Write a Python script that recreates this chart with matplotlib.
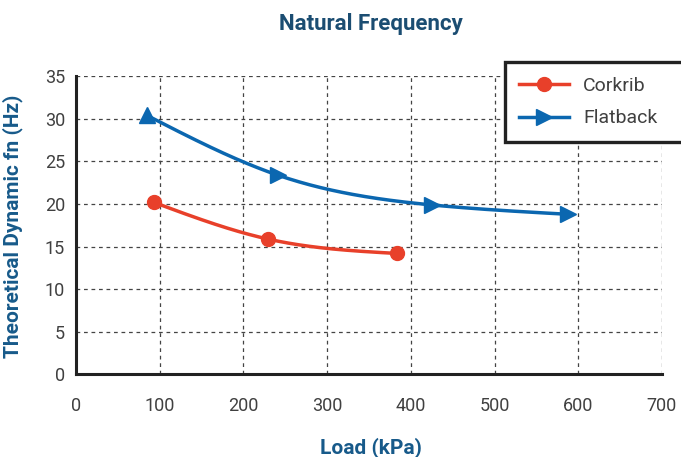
import matplotlib

matplotlib.use("Agg")
import matplotlib.pyplot as plt
import numpy as np
from matplotlib.lines import Line2D
from matplotlib.patches import Rectangle

plt.rcParams["font.family"] = ["Roboto", "DejaVu Sans"]

corkrib_load = [93, 229, 384]
corkrib_fn = [20.2, 15.9, 14.2]
flatback_load = [85, 241, 425, 588]
flatback_fn = [30.4, 23.4, 19.9, 18.8]
flatback_markers = ["^", ">", ">", ">"]

x_ticks = [0, 100, 200, 300, 400, 500, 600, 700]
y_ticks = [0, 5, 10, 15, 20, 25, 30, 35]

RED = "#e8402a"
BLUE = "#0b67b0"
TITLE_C = "#1b4d72"
LABEL_C = "#175a8a"


def smooth(xs, ys, n=200):
    # natural cubic spline in x, only used to draw the smoothed connecting line
    x = np.asarray(xs, dtype=float)
    y = np.asarray(ys, dtype=float)
    k = len(x)
    h = np.diff(x)
    A = np.zeros((k, k))
    b = np.zeros(k)
    A[0, 0] = A[-1, -1] = 1.0
    for i in range(1, k - 1):
        A[i, i - 1] = h[i - 1]
        A[i, i] = 2 * (h[i - 1] + h[i])
        A[i, i + 1] = h[i]
        b[i] = 6 * ((y[i + 1] - y[i]) / h[i] - (y[i] - y[i - 1]) / h[i - 1])
    m = np.linalg.solve(A, b)
    xx = np.linspace(x[0], x[-1], n)
    idx = np.clip(np.searchsorted(x, xx) - 1, 0, k - 2)
    x0, x1 = x[idx], x[idx + 1]
    hh = x1 - x0
    t0, t1 = x1 - xx, xx - x0
    yy = (m[idx] * t0 ** 3 + m[idx + 1] * t1 ** 3) / (6 * hh) \
        + (y[idx] / hh - m[idx] * hh / 6) * t0 + (y[idx + 1] / hh - m[idx + 1] * hh / 6) * t1
    return xx, yy


def main() -> None:
    W, H = 681, 457
    fig = plt.figure(figsize=(W / 100, H / 100), dpi=100)
    ax = fig.add_axes([0.1116, 0.1807, 0.8604, 0.6523])

    ax.set_xlim(0, 700)
    ax.set_ylim(0, 35)
    ax.set_xticks(x_ticks)
    ax.set_yticks(y_ticks)
    ax.grid(True, linestyle=(0, (3, 3)), color="#444444", linewidth=0.9)
    ax.set_axisbelow(True)
    for side in ("top", "right"):
        ax.spines[side].set_visible(False)
    for side in ("left", "bottom"):
        ax.spines[side].set_linewidth(2.2)
        ax.spines[side].set_color("#222222")
    ax.tick_params(length=0, labelsize=13, labelcolor="#404040")
    ax.tick_params(axis="x", pad=16)
    ax.tick_params(axis="y", pad=8)

    sx, sy = smooth(corkrib_load, corkrib_fn)
    ax.plot(sx, sy, color=RED, linewidth=2.5, zorder=3)
    ax.plot(corkrib_load, corkrib_fn, linestyle="none", marker="o", markersize=10,
            color=RED, zorder=4)

    sx, sy = smooth(flatback_load, flatback_fn)
    ax.plot(sx, sy, color=BLUE, linewidth=2.5, zorder=3)
    for x, y, m in zip(flatback_load, flatback_fn, flatback_markers):
        ax.plot([x], [y], linestyle="none", marker=m, markersize=11, color=BLUE, zorder=4)

    fig.text(0.545, 0.948, "Natural Frequency", ha="center", va="center",
             fontsize=16, fontweight="bold", color=TITLE_C)
    fig.text(0.545, 0.02, "Load (kPa)", ha="center", va="center",
             fontsize=15, fontweight="bold", color=LABEL_C)
    fig.text(0.018, 0.505, "Theoretical Dynamic fn (Hz)", ha="center", va="center",
             rotation=90, fontsize=15, fontweight="bold", color=LABEL_C)

    # legend frame runs off the right edge of the picture
    frame = Rectangle((505 / W, 1 - 142 / H), 200 / W, 80 / H, transform=fig.transFigure,
                      facecolor="white", edgecolor="#222222", linewidth=2.4, zorder=5)
    fig.patches.append(frame)

    handles = [
        Line2D([], [], color=RED, marker="o", markersize=10, linewidth=2.5),
        Line2D([], [], color=BLUE, marker=">", markersize=11, linewidth=2.5),
    ]
    leg = fig.legend(handles, ["Corkrib", "Flatback"], loc="upper left",
                     bbox_to_anchor=(515 / W, 1 - 73 / H), frameon=False,
                     fontsize=14, handlelength=2.6, handletextpad=0.7,
                     labelspacing=0.75, borderpad=0.2, borderaxespad=0)
    leg.set_zorder(6)
    for t in leg.get_texts():
        t.set_color("#404040")

    fig.savefig("out.png", dpi=100)
    plt.close(fig)


if __name__ == "__main__":
    main()
